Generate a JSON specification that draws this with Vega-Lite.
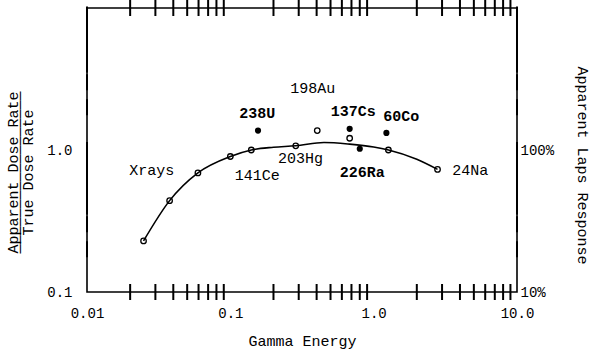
{
  "$schema": "https://vega.github.io/schema/vega-lite/v6.json",
  "width": 430,
  "height": 284,
  "autosize": {"type": "none"},
  "padding": {"left": 87, "top": 8, "right": 73, "bottom": 62},
  "background": "white",
  "config": {
    "view": {"stroke": "black", "strokeWidth": 1.6},
    "font": "Liberation Mono",
    "axis": {
      "domain": false, "grid": false, "ticks": false,
      "labelFont": "Liberation Mono", "titleFont": "Liberation Mono",
      "labelFontSize": 14, "titleFontSize": 15, "titleFontWeight": "normal",
      "labelColor": "black", "titleColor": "black",
      "labelOverlap": false, "labelFlush": false
    }
  },
  "datasets": {
    "curve": [
      {"energy": 0.0248, "ratio": 0.229},
      {"energy": 0.0377, "ratio": 0.44},
      {"energy": 0.0594, "ratio": 0.69},
      {"energy": 0.1, "ratio": 0.9},
      {"energy": 0.14, "ratio": 1.0},
      {"energy": 0.2, "ratio": 1.045},
      {"energy": 0.286, "ratio": 1.07},
      {"energy": 0.45, "ratio": 1.13},
      {"energy": 0.68, "ratio": 1.1},
      {"energy": 1.0, "ratio": 1.05},
      {"energy": 1.27, "ratio": 1.0},
      {"energy": 2.0, "ratio": 0.86},
      {"energy": 2.79, "ratio": 0.73}
    ],
    "points": [
      {"source": "Xrays", "energy": 0.0248, "ratio": 0.229, "group": "open"},
      {"source": "Xrays", "energy": 0.0377, "ratio": 0.44, "group": "open"},
      {"source": "Xrays", "energy": 0.0594, "ratio": 0.69, "group": "open"},
      {"source": "Xrays", "energy": 0.1, "ratio": 0.9, "group": "open"},
      {"source": "141Ce", "energy": 0.14, "ratio": 1.0, "group": "open"},
      {"source": "203Hg", "energy": 0.286, "ratio": 1.07, "group": "open"},
      {"source": "198Au", "energy": 0.404, "ratio": 1.37, "group": "open"},
      {"source": "137Cs", "energy": 0.68, "ratio": 1.21, "group": "open"},
      {"source": "60Co", "energy": 1.267, "ratio": 1.0, "group": "open"},
      {"source": "24Na", "energy": 2.79, "ratio": 0.73, "group": "open"},
      {"source": "238U", "energy": 0.156, "ratio": 1.37, "group": "solid"},
      {"source": "137Cs", "energy": 0.68, "ratio": 1.41, "group": "solid"},
      {"source": "226Ra", "energy": 0.8, "ratio": 1.02, "group": "solid"},
      {"source": "60Co", "energy": 1.227, "ratio": 1.32, "group": "solid"}
    ],
    "labels": [
      {"label": "238U", "energy": 0.154, "ratio": 1.83, "group": "solid"},
      {"label": "198Au", "energy": 0.376, "ratio": 2.75, "group": "open"},
      {"label": "137Cs", "energy": 0.72, "ratio": 1.88, "group": "solid"},
      {"label": "60Co", "energy": 1.56, "ratio": 1.73, "group": "solid"},
      {"label": "203Hg", "energy": 0.309, "ratio": 0.875, "group": "open"},
      {"label": "226Ra", "energy": 0.834, "ratio": 0.7, "group": "solid"},
      {"label": "141Ce", "energy": 0.154, "ratio": 0.667, "group": "open"},
      {"label": "Xrays", "energy": 0.0283, "ratio": 0.72, "group": "open"},
      {"label": "24Na", "energy": 4.71, "ratio": 0.72, "group": "open"}
    ]
  },
  "layer": [
    {
      "mark": {"type": "rule", "color": "black", "strokeWidth": 1.5},
      "encoding": {
        "y": {"datum": 1, "type": "quantitative", "scale": {"type": "log", "domain": [0.1, 10], "nice": false}, "axis": null}
      }
    },
    {
      "data": {"values": [{"tick": 0.02}, {"tick": 0.03}, {"tick": 0.04}, {"tick": 0.05}, {"tick": 0.06}, {"tick": 0.07}, {"tick": 0.08}, {"tick": 0.09}, {"tick": 0.2}, {"tick": 0.3}, {"tick": 0.4}, {"tick": 0.5}, {"tick": 0.6}, {"tick": 0.7}, {"tick": 0.8}, {"tick": 0.9}, {"tick": 2}, {"tick": 3}, {"tick": 4}, {"tick": 5}, {"tick": 6}, {"tick": 7}, {"tick": 8}, {"tick": 9}]},
      "mark": {"type": "tick", "color": "black", "thickness": 2, "opacity": 1, "size": 16, "clip": false},
      "encoding": {
        "x": {"field": "tick", "type": "quantitative", "scale": {"type": "log", "domain": [0.01, 10], "nice": false}, "axis": null},
        "y": {"datum": 0.1, "type": "quantitative", "scale": {"type": "log", "domain": [0.1, 10], "nice": false}, "axis": null}
      }
    },
    {
      "data": {"values": [{"tick": 0.02}, {"tick": 0.03}, {"tick": 0.04}, {"tick": 0.05}, {"tick": 0.06}, {"tick": 0.07}, {"tick": 0.08}, {"tick": 0.09}, {"tick": 0.2}, {"tick": 0.3}, {"tick": 0.4}, {"tick": 0.5}, {"tick": 0.6}, {"tick": 0.7}, {"tick": 0.8}, {"tick": 0.9}, {"tick": 2}, {"tick": 3}, {"tick": 4}, {"tick": 5}, {"tick": 6}, {"tick": 7}, {"tick": 8}, {"tick": 9}]},
      "mark": {"type": "tick", "color": "black", "thickness": 2, "opacity": 1, "size": 16, "clip": false},
      "encoding": {
        "x": {"field": "tick", "type": "quantitative", "scale": {"type": "log", "domain": [0.01, 10], "nice": false}, "axis": null},
        "y": {"datum": 10, "type": "quantitative", "scale": {"type": "log", "domain": [0.1, 10], "nice": false}, "axis": null}
      }
    },
    {
      "data": {"values": [{"tick": 0.2}, {"tick": 0.3}, {"tick": 0.4}, {"tick": 0.5}, {"tick": 0.6}, {"tick": 0.7}, {"tick": 0.8}, {"tick": 0.9}, {"tick": 1}, {"tick": 2}, {"tick": 3}, {"tick": 4}, {"tick": 5}, {"tick": 6}, {"tick": 7}, {"tick": 8}, {"tick": 9}]},
      "mark": {"type": "tick", "color": "black", "thickness": 2, "opacity": 1, "size": 16, "clip": false},
      "encoding": {
        "y": {"field": "tick", "type": "quantitative", "scale": {"type": "log", "domain": [0.1, 10], "nice": false}, "axis": null},
        "x": {"datum": 0.01, "type": "quantitative", "scale": {"type": "log", "domain": [0.01, 10], "nice": false}, "axis": null}
      }
    },
    {
      "data": {"values": [{"tick": 0.2}, {"tick": 0.3}, {"tick": 0.4}, {"tick": 0.5}, {"tick": 0.6}, {"tick": 0.7}, {"tick": 0.8}, {"tick": 0.9}, {"tick": 1}, {"tick": 2}, {"tick": 3}, {"tick": 4}, {"tick": 5}, {"tick": 6}, {"tick": 7}, {"tick": 8}, {"tick": 9}]},
      "mark": {"type": "tick", "color": "black", "thickness": 2, "opacity": 1, "size": 16, "clip": false},
      "encoding": {
        "y": {"field": "tick", "type": "quantitative", "scale": {"type": "log", "domain": [0.1, 10], "nice": false}, "axis": null},
        "x": {"datum": 10, "type": "quantitative", "scale": {"type": "log", "domain": [0.01, 10], "nice": false}, "axis": null}
      }
    },
    {
      "data": {"name": "curve"},
      "mark": {"type": "line", "interpolate": "monotone", "color": "black", "strokeWidth": 1.6},
      "encoding": {
        "x": {"field": "energy", "type": "quantitative", "scale": {"type": "log", "domain": [0.01, 10], "nice": false}, "axis": null},
        "y": {"field": "ratio", "type": "quantitative", "scale": {"type": "log", "domain": [0.1, 10], "nice": false},
          "axis": {"orient": "right", "values": [0.1, 1],
            "labelExpr": "datum.value==0.1?'10%':datum.value==1?'100%':''",
            "labelPadding": 3, "labelBaseline": "middle",
            "title": "Apparent Laps Response", "titleAngle": 90, "titleX": 65, "titleY": 157,
            "titleAlign": "center", "titleBaseline": "middle"}}
      }
    },
    {
      "data": {"name": "points"},
      "transform": [{"filter": "datum.group == 'open'"}],
      "mark": {"type": "point", "shape": "circle", "filled": false, "stroke": "black", "strokeWidth": 1.3, "size": 30, "opacity": 1},
      "encoding": {
        "x": {"field": "energy", "type": "quantitative", "scale": {"type": "log", "domain": [0.01, 10], "nice": false},
          "axis": {"orient": "bottom", "values": [0.01, 0.1, 1, 10],
            "labelExpr": "datum.value==0.01?'0.01':datum.value==0.1?'0.1':datum.value==1?'1.0':datum.value==10?'10.0':''",
            "labelPadding": 14,
            "title": "Gamma Energy", "titleY": 48, "titleBaseline": "middle", "titleAlign": "center"}},
        "y": {"field": "ratio", "type": "quantitative", "scale": {"type": "log", "domain": [0.1, 10], "nice": false},
          "axis": {"orient": "left", "values": [0.1, 1],
            "labelExpr": "datum.value==0.1?'0.1':datum.value==1?'1.0':''",
            "labelPadding": 15, "labelBaseline": "middle",
            "title": ["Apparent Dose Rate", "──────────────────", "True Dose Rate"],
            "titleAngle": -90, "titleX": -70, "titleY": 164, "titleAlign": "center", "titleBaseline": "alphabetic",
            "titleLineHeight": 7.5}}
      }
    },
    {
      "data": {"name": "points"},
      "transform": [{"filter": "datum.group == 'solid'"}],
      "mark": {"type": "point", "shape": "circle", "filled": true, "fill": "black", "size": 38, "opacity": 1},
      "encoding": {
        "x": {"field": "energy", "type": "quantitative", "scale": {"type": "log", "domain": [0.01, 10], "nice": false}, "axis": null},
        "y": {"field": "ratio", "type": "quantitative", "scale": {"type": "log", "domain": [0.1, 10], "nice": false}, "axis": null}
      }
    },
    {
      "data": {"name": "labels"},
      "transform": [{"filter": "datum.group == 'open'"}],
      "mark": {"type": "text", "font": "Liberation Mono", "fontSize": 15, "fontWeight": "normal", "color": "black", "align": "center", "baseline": "middle"},
      "encoding": {
        "x": {"field": "energy", "type": "quantitative", "scale": {"type": "log", "domain": [0.01, 10], "nice": false}, "axis": null},
        "y": {"field": "ratio", "type": "quantitative", "scale": {"type": "log", "domain": [0.1, 10], "nice": false}, "axis": null},
        "text": {"field": "label"}
      }
    },
    {
      "data": {"name": "labels"},
      "transform": [{"filter": "datum.group == 'solid'"}],
      "mark": {"type": "text", "font": "Liberation Mono", "fontSize": 15, "fontWeight": "bold", "color": "black", "align": "center", "baseline": "middle"},
      "encoding": {
        "x": {"field": "energy", "type": "quantitative", "scale": {"type": "log", "domain": [0.01, 10], "nice": false}, "axis": null},
        "y": {"field": "ratio", "type": "quantitative", "scale": {"type": "log", "domain": [0.1, 10], "nice": false}, "axis": null},
        "text": {"field": "label"}
      }
    }
  ],
  "resolve": {"axis": {"x": "independent", "y": "independent"}}
}
